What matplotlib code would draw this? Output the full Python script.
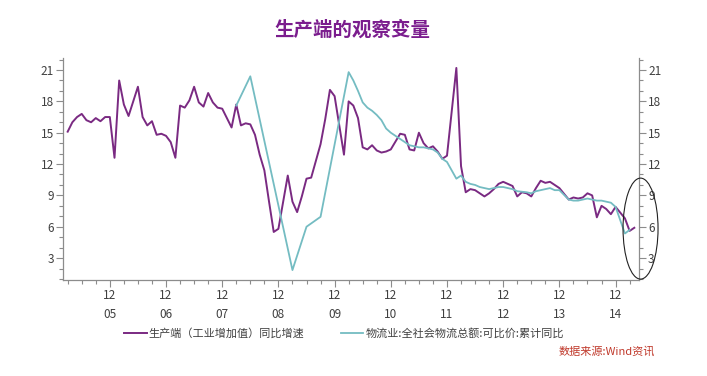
import matplotlib
matplotlib.use("Agg")
import matplotlib.pyplot as plt
from matplotlib.patches import Ellipse
from matplotlib.ticker import FixedLocator, MultipleLocator

plt.rcParams['font.family'] = ['Noto Sans CJK SC', 'DejaVu Sans']

# 生产端（工业增加值）同比增速, monthly (some Januaries missing)
iva_months = [
    "2005-03", "2005-04", "2005-05", "2005-06", "2005-07", "2005-08", "2005-09", "2005-10", "2005-11", "2005-12",
    "2006-01", "2006-02", "2006-03", "2006-04", "2006-05", "2006-06", "2006-07", "2006-08", "2006-09", "2006-10", "2006-11", "2006-12",
    "2007-01", "2007-02", "2007-03", "2007-04", "2007-05", "2007-06", "2007-07", "2007-08", "2007-09", "2007-10", "2007-11", "2007-12",
    "2008-01", "2008-02", "2008-03", "2008-04", "2008-05", "2008-06", "2008-07", "2008-08", "2008-09", "2008-10", "2008-11", "2008-12",
    "2009-02", "2009-03", "2009-04", "2009-05", "2009-06", "2009-07", "2009-08", "2009-09", "2009-10", "2009-11", "2009-12",
    "2010-02", "2010-03", "2010-04", "2010-05", "2010-06", "2010-07", "2010-08", "2010-09", "2010-10", "2010-11", "2010-12",
    "2011-02", "2011-03", "2011-04", "2011-05", "2011-06", "2011-07", "2011-08", "2011-09", "2011-10", "2011-11", "2011-12",
    "2012-02", "2012-03", "2012-04", "2012-05", "2012-06", "2012-07", "2012-08", "2012-09", "2012-10", "2012-11", "2012-12",
    "2013-02", "2013-03", "2013-04", "2013-05", "2013-06", "2013-07", "2013-08", "2013-09", "2013-10", "2013-11", "2013-12",
    "2014-02", "2014-03", "2014-04", "2014-05", "2014-06", "2014-07", "2014-08", "2014-09", "2014-10", "2014-11", "2014-12",
    "2015-02", "2015-03", "2015-04",
]
iva_values = [
    15.1, 16.0, 16.5, 16.8, 16.2, 16.0, 16.4, 16.1, 16.5, 16.5,
    12.6, 20.0, 17.7, 16.6, 18.0, 19.4, 16.5, 15.7, 16.1, 14.8, 14.9, 14.7,
    14.1, 12.6, 17.6, 17.4, 18.1, 19.4, 17.9, 17.5, 18.8, 17.9, 17.4, 17.3,
    16.4, 15.5, 17.7, 15.7, 15.9, 15.8, 14.8, 12.9, 11.4, 8.4, 5.5, 5.8,
    10.9, 8.4, 7.4, 8.9, 10.6, 10.7, 12.3, 13.9, 16.3, 19.1, 18.5,
    12.9, 18.0, 17.6, 16.4, 13.6, 13.4, 13.8, 13.3, 13.1, 13.2, 13.4,
    14.9, 14.8, 13.4, 13.3, 15.0, 14.0, 13.5, 13.7, 13.2, 12.5, 12.8,
    21.2, 11.8, 9.3, 9.6, 9.5, 9.2, 8.9, 9.2, 9.6, 10.1, 10.3,
    9.9, 8.9, 9.3, 9.2, 8.9, 9.7, 10.4, 10.2, 10.3, 10.0, 9.7,
    8.6, 8.8, 8.7, 8.8, 9.2, 9.0, 6.9, 8.0, 7.7, 7.2, 7.9,
    6.8, 5.6, 5.9,
]

# 物流业:全社会物流总额:可比价:累计同比
log_months = [
    "2008-03", "2008-06", "2009-03", "2009-06", "2009-09",
    "2010-03", "2010-04", "2010-05", "2010-06", "2010-07", "2010-08", "2010-09", "2010-10", "2010-11", "2010-12",
    "2011-02", "2011-03", "2011-04", "2011-05", "2011-06", "2011-07", "2011-08", "2011-09", "2011-10", "2011-11", "2011-12",
    "2012-02", "2012-03", "2012-04", "2012-05", "2012-06", "2012-07", "2012-08", "2012-09", "2012-10", "2012-11", "2012-12",
    "2013-02", "2013-03", "2013-04", "2013-05", "2013-06", "2013-07", "2013-08", "2013-09", "2013-10", "2013-11", "2013-12",
    "2014-02", "2014-03", "2014-04", "2014-05", "2014-06", "2014-07", "2014-08", "2014-09", "2014-10", "2014-11", "2014-12",
    "2015-02", "2015-03",
]
log_values = [
    17.6, 20.4, 1.85, 6.0, 6.95,
    20.8, 20.0, 19.0, 17.9, 17.4, 17.1, 16.7, 16.2, 15.4, 15.0,
    14.4, 14.1, 13.8, 13.7, 13.6, 13.6, 13.5, 13.4, 13.1, 12.5, 12.2,
    10.6, 10.9, 10.3, 10.1, 10.0, 9.8, 9.7, 9.6, 9.7, 9.8, 9.8,
    9.6, 9.4, 9.35, 9.3, 9.2, 9.4, 9.5, 9.6, 9.7, 9.5, 9.5,
    8.6, 8.5, 8.5, 8.6, 8.7, 8.6, 8.5, 8.5, 8.4, 8.3, 7.9,
    5.35, 5.7,
]

years = ["05", "06", "07", "08", "09", "10", "11", "12", "13", "14"]


def month_index(s):
    y, m = s.split("-")
    return (int(y) - 2005) * 12 + int(m) - 1


iva_x = [month_index(s) for s in iva_months]
log_x = [month_index(s) for s in log_months]

purple = "#7A2A82"
teal = "#74BCC2"
grey = "#8C8C8C"
txt = "#404040"

fig = plt.figure(figsize=(7.07, 3.76), dpi=100)
ax = fig.add_axes([0.0891, 0.2553, 0.8147, 0.5904])

ax.plot(iva_x, iva_values, color=purple, lw=1.4, label="生产端（工业增加值）同比增速")
ax.plot(log_x, log_values, color=teal, lw=1.3, label="物流业:全社会物流总额:可比价:累计同比")

ax.set_xlim(1, 124)
ax.set_ylim(0.9, 22.15)

dec_ticks = [month_index(f"20{y}-12") for y in years]
ax.xaxis.set_major_locator(FixedLocator(dec_ticks))
ax.set_xticklabels([f"12\n{y}" for y in years], fontsize=8.5, color=txt, linespacing=1.6)
ax.xaxis.set_minor_locator(FixedLocator([m for m in range(2, 124, 3) if m not in dec_ticks]))

ax.yaxis.set_major_locator(FixedLocator([3, 6, 9, 12, 15, 18, 21]))
ax.yaxis.set_minor_locator(MultipleLocator(1))
ax.tick_params(axis="y", which="both", left=True, right=True, labelleft=True, labelright=True)
ax.tick_params(axis="both", which="major", direction="out", length=5, width=0.8, color=grey,
               labelsize=8.5, labelcolor=txt, pad=1.5)
ax.tick_params(axis="both", which="minor", direction="out", length=3, width=0.8, color=grey)

for side in ["left", "right", "bottom"]:
    ax.spines[side].set_color(grey)
    ax.spines[side].set_linewidth(0.9)
ax.spines["top"].set_visible(False)

fig.text(0.498, 0.92, "生产端的观察变量", ha="center", va="center",
         fontsize=14, fontweight="bold", color="#7B1D8E")

fig.legend(loc="center", bbox_to_anchor=(0.487, 0.114), ncol=2, frameon=False,
           fontsize=8, handlelength=2.0, handletextpad=0.2, columnspacing=3.3,
           labelcolor=txt)

fig.text(0.926, 0.064, "数据来源:Wind资讯", ha="right", va="center",
         fontsize=8, color="#C0392B", style="italic")

fig.patches.append(Ellipse((0.906, 0.392), 0.0495, 0.2686, transform=fig.transFigure,
                           fill=False, edgecolor="#222222", lw=0.8))

fig.savefig("out.png", dpi=100, facecolor="white")
